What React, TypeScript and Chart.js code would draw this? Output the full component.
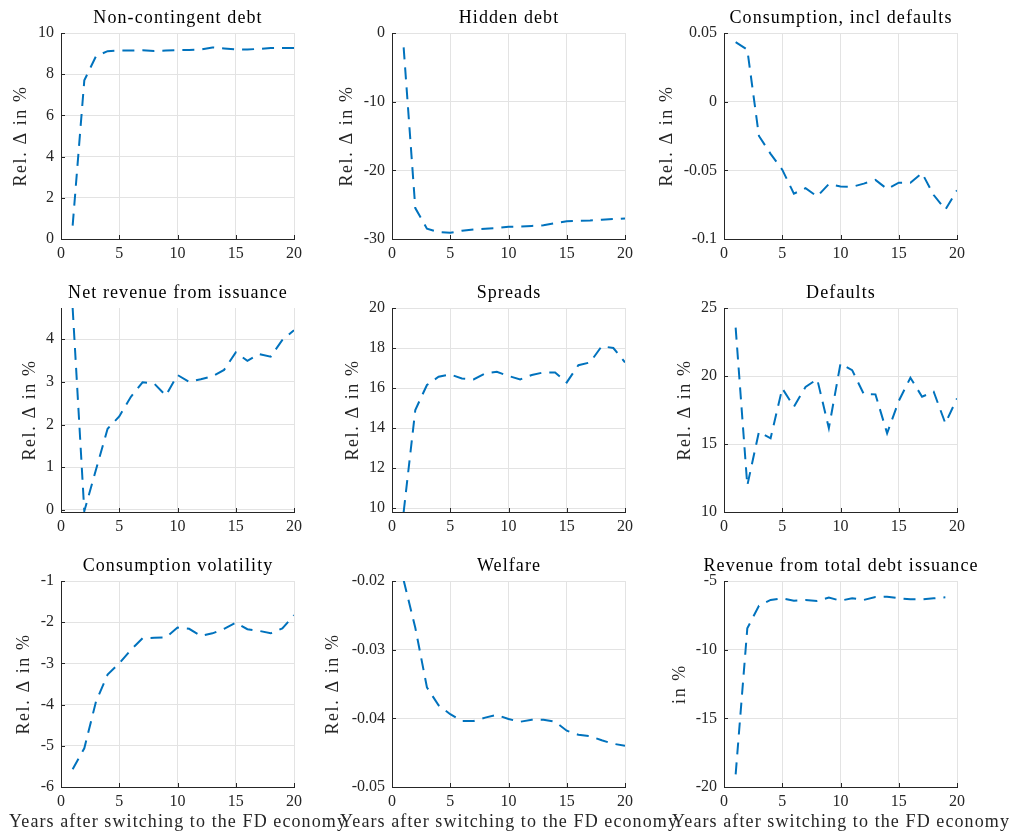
import React, { useEffect, useRef } from "react";
import { Chart, registerables } from "chart.js";

Chart.register(...registerables);

// ---------- data ----------
const YEARS = [1, 2, 3, 4, 5, 6, 7, 8, 9, 10, 11, 12, 13, 14, 15, 16, 17, 18, 19, 20];

const NONCONT_DEBT = [0.65, 7.7, 8.87, 9.12, 9.15, 9.15, 9.16, 9.13, 9.15, 9.17, 9.18, 9.2, 9.3, 9.25, 9.21, 9.2, 9.23, 9.27, 9.27, 9.27];
const HIDDEN_DEBT = [-2.1, -25.5, -28.5, -29.0, -29.1, -28.8, -28.6, -28.5, -28.4, -28.2, -28.2, -28.1, -28.0, -27.7, -27.4, -27.35, -27.3, -27.2, -27.1, -27.0];
const CONS_DEFAULTS = [0.0434, 0.0379, -0.025, -0.038, -0.0495, -0.067, -0.063, -0.069, -0.06, -0.0617, -0.062, -0.0597, -0.057, -0.0636, -0.059, -0.059, -0.052, -0.068, -0.0786, -0.0646];
const NET_REVENUE = [4.73, -0.03, 0.94, 1.9, 2.19, 2.65, 2.99, 2.96, 2.68, 3.16, 3.0, 3.06, 3.13, 3.28, 3.69, 3.49, 3.65, 3.59, 3.98, 4.21];
const SPREADS = [9.8, 14.9, 16.15, 16.56, 16.68, 16.48, 16.43, 16.73, 16.81, 16.6, 16.43, 16.65, 16.78, 16.78, 16.28, 17.14, 17.28, 18.09, 18.0, 17.28];
const DEFAULTS = [23.56, 11.95, 15.9, 15.42, 19.09, 17.74, 19.2, 19.77, 16.16, 20.92, 20.43, 18.67, 18.65, 15.79, 18.16, 19.87, 18.48, 18.84, 16.52, 18.35];
const CONS_VOL = [-5.57, -5.06, -3.93, -3.27, -3.0, -2.67, -2.39, -2.38, -2.37, -2.13, -2.16, -2.33, -2.27, -2.16, -2.01, -2.17, -2.21, -2.27, -2.15, -1.83];
const WELFARE = [-0.0199, -0.0268, -0.0355, -0.0381, -0.0394, -0.0404, -0.0404, -0.0399, -0.0395, -0.0401, -0.0405, -0.0402, -0.0402, -0.0405, -0.0418, -0.0424, -0.0426, -0.0432, -0.0437, -0.044];
const REV_TOTAL = [-19.08, -8.45, -6.8, -6.38, -6.26, -6.43, -6.38, -6.46, -6.21, -6.43, -6.26, -6.38, -6.17, -6.14, -6.26, -6.33, -6.33, -6.26, -6.19];

const X_TICKS = [0, 5, 10, 15, 20];
const TICKS_NONCONT = [0, 2, 4, 6, 8, 10];
const TICKS_HIDDEN = [-30, -20, -10, 0];
const TICKS_CONS_DEF = [-0.1, -0.05, 0, 0.05];
const TICKS_NET_REV = [0, 1, 2, 3, 4];
const TICKS_SPREADS = [10, 12, 14, 16, 18, 20];
const TICKS_DEFAULTS = [10, 15, 20, 25];
const TICKS_CONS_VOL = [-6, -5, -4, -3, -2, -1];
const TICKS_WELFARE = [-0.05, -0.04, -0.03, -0.02];
const TICKS_REV_TOTAL = [-20, -15, -10, -5];

const TITLES = [
  "Non-contingent debt",
  "Hidden debt",
  "Consumption, incl defaults",
  "Net revenue from issuance",
  "Spreads",
  "Defaults",
  "Consumption volatility",
  "Welfare",
  "Revenue from total debt issuance",
];
const Y_LABEL = "Rel. \u0394 in %";
const Y_LABEL_SHORT = "in %";
const X_LABEL = "Years after switching to the FD economy";

// ---------- layout / style ----------
const COL_L = [61, 392, 724];
const COL_R = [294, 625, 957];
const ROW_T = [33, 308, 581];
const ROW_B = [239, 512, 787];
const Y_AXIS_W = 61;
const TOP_PAD = 33;
const EXTRA = 70;

const LINE_COLOR = "#0072BD";
const AXIS_COLOR = "#262626";
const GRID_COLOR = "#e3e3e3";
const FONT = "'Liberation Serif', 'Times New Roman', serif";

type PanelCfg = {
  title: string;
  yLabel: string;
  values: number[];
  yMin: number;
  yMax: number;
  yTicks: number[];
  col: number;
  row: number;
  yLabelOffset: number;
  xLabel?: string;
};

const PANELS: PanelCfg[] = [
  { title: TITLES[0], yLabel: Y_LABEL, values: NONCONT_DEBT, yMin: 0, yMax: 10, yTicks: TICKS_NONCONT, col: 0, row: 0, yLabelOffset: 39.5 },
  { title: TITLES[1], yLabel: Y_LABEL, values: HIDDEN_DEBT, yMin: -30, yMax: 0, yTicks: TICKS_HIDDEN, col: 1, row: 0, yLabelOffset: 44.5 },
  { title: TITLES[2], yLabel: Y_LABEL, values: CONS_DEFAULTS, yMin: -0.1, yMax: 0.05, yTicks: TICKS_CONS_DEF, col: 2, row: 0, yLabelOffset: 57 },
  { title: TITLES[3], yLabel: Y_LABEL, values: NET_REVENUE, yMin: -0.05, yMax: 4.73, yTicks: TICKS_NET_REV, col: 0, row: 1, yLabelOffset: 30.5 },
  { title: TITLES[4], yLabel: Y_LABEL, values: SPREADS, yMin: 9.8, yMax: 20, yTicks: TICKS_SPREADS, col: 1, row: 1, yLabelOffset: 39 },
  { title: TITLES[5], yLabel: Y_LABEL, values: DEFAULTS, yMin: 10, yMax: 25, yTicks: TICKS_DEFAULTS, col: 2, row: 1, yLabelOffset: 39 },
  { title: TITLES[6], yLabel: Y_LABEL, values: CONS_VOL, yMin: -6, yMax: -1, yTicks: TICKS_CONS_VOL, col: 0, row: 2, yLabelOffset: 36.5, xLabel: X_LABEL },
  { title: TITLES[7], yLabel: Y_LABEL, values: WELFARE, yMin: -0.05, yMax: -0.02, yTicks: TICKS_WELFARE, col: 1, row: 2, yLabelOffset: 59, xLabel: X_LABEL },
  { title: TITLES[8], yLabel: Y_LABEL_SHORT, values: REV_TOTAL, yMin: -20, yMax: -5, yTicks: TICKS_REV_TOTAL, col: 2, row: 2, yLabelOffset: 44, xLabel: X_LABEL },
];

const decorPlugin = {
  id: "decor",
  afterDraw(chart: any, _args: any, opts: any) {
    const { ctx, chartArea: a } = chart;
    const xs = chart.scales.x;
    const ys = chart.scales.y;
    ctx.save();
    // inward tick marks
    ctx.strokeStyle = AXIS_COLOR;
    ctx.lineWidth = 1;
    ctx.beginPath();
    ys.ticks.forEach((t: any) => {
      const y = Math.round(ys.getPixelForValue(t.value)) + 0.5;
      ctx.moveTo(a.left, y);
      ctx.lineTo(a.left + 4, y);
    });
    xs.ticks.forEach((t: any) => {
      const x = Math.round(xs.getPixelForValue(t.value)) + 0.5;
      ctx.moveTo(x, a.bottom);
      ctx.lineTo(x, a.bottom - 4);
    });
    ctx.stroke();

    // title
    ctx.fillStyle = "#000";
    ctx.font = `18px ${FONT}`;
    ctx.letterSpacing = "1.1px";
    ctx.textAlign = "center";
    ctx.textBaseline = "alphabetic";
    ctx.fillText(opts.title, (a.left + a.right) / 2 + 0.5, a.top - 10.5);

    // x label
    if (opts.xLabel) {
      ctx.fillStyle = AXIS_COLOR;
      ctx.fillText(opts.xLabel, (a.left + a.right) / 2 + 0.5, a.bottom + 40);
    }

    // y label
    ctx.fillStyle = AXIS_COLOR;
    ctx.letterSpacing = "1.6px";
    ctx.textBaseline = "middle";
    ctx.translate(a.left - opts.yLabelOffset, (a.top + a.bottom) / 2);
    ctx.rotate(-Math.PI / 2);
    ctx.fillText(opts.yLabel, 0, 0);
    ctx.restore();
  },
};

function Panel({ cfg }: { cfg: PanelCfg }) {
  const ref = useRef<HTMLCanvasElement>(null);
  const L = COL_L[cfg.col];
  const R = COL_R[cfg.col];
  const T = ROW_T[cfg.row];
  const B = ROW_B[cfg.row];
  const xh = cfg.row === 2 ? 52 : 30;
  const left = L - Y_AXIS_W - EXTRA;
  const top = T - TOP_PAD;
  const w = R - L + Y_AXIS_W + 2 * EXTRA;
  const h = TOP_PAD + (B - T) + xh;

  useEffect(() => {
    const canvas = ref.current;
    if (!canvas) return;
    const data = cfg.values.map((v, i) => ({ x: YEARS[i], y: v }));
    const chart = new Chart(canvas, {
      type: "line",
      data: {
        datasets: [
          {
            data,
            borderColor: LINE_COLOR,
            borderWidth: 2,
            borderDash: [12, 8],
            pointRadius: 0,
            tension: 0,
            fill: false,
          },
        ],
      },
      options: {
        responsive: false,
        animation: false,
        devicePixelRatio: 1,
        layout: { padding: { left: EXTRA, right: EXTRA, top: TOP_PAD, bottom: 0 } },
        plugins: {
          legend: { display: false },
          tooltip: { enabled: false },
          title: { display: false },
          decor: {
            title: cfg.title,
            yLabel: cfg.yLabel,
            xLabel: cfg.xLabel,
            yLabelOffset: cfg.yLabelOffset,
          },
        } as any,
        scales: {
          x: {
            type: "linear",
            min: 0,
            max: 20,
            bounds: "data",
            afterBuildTicks: (s: any) => {
              s.ticks = X_TICKS.map((v) => ({ value: v }));
            },
            afterFit: (s: any) => {
              s.height = xh;
            },
            grid: { color: GRID_COLOR, drawTicks: false, lineWidth: 1 },
            border: { display: true, color: AXIS_COLOR, width: 1 },
            ticks: {
              padding: 5,
              color: AXIS_COLOR,
              font: { family: FONT, size: 16 },
              maxRotation: 0,
              autoSkip: false,
              callback: (v: any) => String(v),
            },
          },
          y: {
            type: "linear",
            min: cfg.yMin,
            max: cfg.yMax,
            bounds: "data",
            afterBuildTicks: (s: any) => {
              s.ticks = cfg.yTicks.map((v) => ({ value: v }));
            },
            afterFit: (s: any) => {
              s.width = Y_AXIS_W;
            },
            grid: { color: GRID_COLOR, drawTicks: false, lineWidth: 1 },
            border: { display: true, color: AXIS_COLOR, width: 1 },
            ticks: {
              padding: 7,
              color: AXIS_COLOR,
              font: { family: FONT, size: 16 },
              autoSkip: false,
              callback: (v: any) => String(v),
            },
          },
        },
      },
      plugins: [decorPlugin as any],
    });
    return () => chart.destroy();
  }, [cfg]);

  return (
    <canvas
      ref={ref}
      width={w}
      height={h}
      style={{ position: "absolute", left, top, width: w, height: h }}
    />
  );
}

export default function App() {
  return (
    <div
      style={{
        position: "absolute",
        left: 0,
        top: 0,
        width: 1016,
        height: 838,
        background: "#fff",
        overflow: "hidden",
      }}
    >
      {PANELS.map((p, i) => (
        <Panel key={i} cfg={p} />
      ))}
    </div>
  );
}
